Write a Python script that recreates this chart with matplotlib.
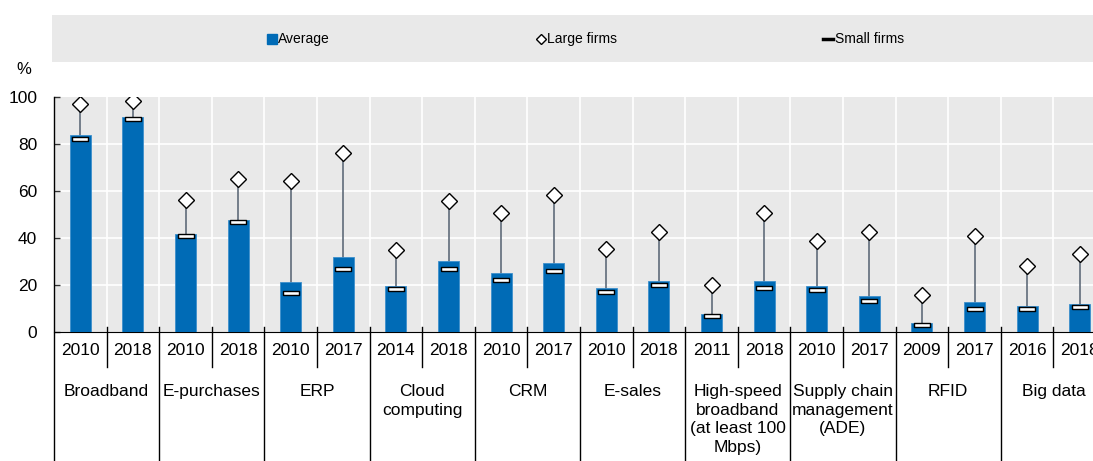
import matplotlib.pyplot as plt
from matplotlib.transforms import blended_transform_factory
from matplotlib import font_manager

groups = ['Broadband', 'E-purchases', 'ERP', 'Cloud\ncomputing', 'CRM', 'E-sales',
          'High-speed\nbroadband\n(at least 100\nMbps)', 'Supply chain\nmanagement\n(ADE)',
          'RFID', 'Big data']
years = ['2010', '2018', '2010', '2018', '2010', '2017', '2014', '2018', '2010', '2017',
         '2010', '2018', '2011', '2018', '2010', '2017', '2009', '2017', '2016', '2018']
average = [83.8, 91.7, 41.7, 47.8, 21.2, 32.1, 19.4, 30.1, 25.2, 29.4,
           18.6, 21.9, 7.8, 21.8, 19.7, 15.3, 3.8, 12.6, 10.9, 12.0]
large = [97.0, 98.5, 56.2, 65.0, 64.3, 76.0, 35.0, 55.8, 50.8, 58.3,
         35.3, 42.4, 20.1, 50.6, 38.9, 42.4, 15.7, 41.0, 28.1, 33.0]
small = [82.2, 90.8, 40.8, 46.8, 16.5, 26.7, 18.4, 27.0, 22.3, 26.1,
         17.1, 20.1, 6.8, 18.8, 18.0, 13.0, 2.8, 9.9, 9.6, 10.5]

names = {f.name for f in font_manager.fontManager.ttflist}
fam = 'Liberation Sans Narrow' if 'Liberation Sans Narrow' in names else 'Liberation Sans'
plt.rcParams['font.family'] = [fam, 'DejaVu Sans']

blue = '#006bb6'
grey_bg = '#e9e9e9'
stem = '#5f6b7a'

W, H = 1093, 461
fig = plt.figure(figsize=(W / 100, H / 100), dpi=100)

# plot area (runs a bit past the right edge, like the original)
x0, x1, ytop, ybot = 54, 1106, 97, 332
ax = fig.add_axes([x0 / W, (H - ybot) / H, (x1 - x0) / W, (ybot - ytop) / H])
ax.set_facecolor(grey_bg)
n = len(years)
xs = list(range(n))
ax.set_xlim(-0.5, n - 0.5)
ax.set_ylim(0, 100)

for v in [20, 40, 60, 80]:
    ax.axhline(v, color='white', lw=1.2, zorder=1)
for i in range(1, n):
    ax.axvline(i - 0.5, color='white', lw=1.2, zorder=1)

ax.vlines(xs, small, large, color=stem, lw=1.2, zorder=2)
ax.bar(xs, average, width=0.4, color=blue, edgecolor='#3d8fcc', lw=0.6, zorder=3)
rect = [(-1, -0.28), (1, -0.28), (1, 0.28), (-1, 0.28), (-1, -0.28)]
ax.plot(xs, small, ls='none', marker=rect, ms=12, mfc='white', mec='black', mew=1, zorder=4)
ax.plot(xs, large, ls='none', marker='D', ms=8.6, mfc='white', mec='black', mew=1, zorder=5)

for s in ['top', 'right']:
    ax.spines[s].set_visible(False)
ax.spines['bottom'].set_color('black')
ax.spines['left'].set_visible(False)
ax.set_xticks([])
ax.set_yticks([0, 20, 40, 60, 80, 100])
ax.tick_params(axis='y', direction='in', length=4, width=1, color='#333333',
               labelsize=12.5, pad=12)
ax.text(-0.022, 1.115, '%', transform=ax.transAxes, fontsize=12, ha='right', va='center')

tr = blended_transform_factory(ax.transData, ax.transAxes)
bot = -0.56
# left axis line
ax.plot([-0.5, -0.5], [1.0, bot], transform=tr, color='black', lw=1, clip_on=False, zorder=6)
for i in range(n):
    ax.text(i, -0.077, years[i], transform=tr, ha='center', va='center', fontsize=12.5)
    if i % 2 == 1:
        ax.plot([i - 0.5, i - 0.5], [0.021, -0.149], transform=tr, color='black', lw=1,
                clip_on=False)
    elif i > 0:
        ax.plot([i - 0.5, i - 0.5], [0.021, bot], transform=tr, color='black', lw=1,
                clip_on=False)
for g, name in enumerate(groups):
    ax.text(2 * g + 0.5, -0.22, name, transform=tr, ha='center', va='top',
            fontsize=12.5, linespacing=1.32)

# legend strip
lg = fig.add_axes([52 / W, (H - 62) / H, (W - 52) / W, 47 / H])
lg.set_xlim(0, W - 52)
lg.set_ylim(0, 1)
lg.axis('off')
lg.add_patch(plt.Rectangle((0, 0), W, 1, color=grey_bg, zorder=0))
lg.plot([272 - 52], [0.5], marker='s', ms=7, color=blue, ls='none')
lg.text(278 - 52, 0.5, 'Average', va='center', fontsize=10)
lg.plot([541 - 52], [0.5], marker='D', ms=5.5, mfc='white', mec='black', mew=1, ls='none')
lg.text(547 - 52, 0.5, 'Large firms', va='center', fontsize=10)
lg.plot([823 - 52, 833 - 52], [0.5, 0.5], color='black', lw=2.5)
lg.text(835 - 52, 0.5, 'Small firms', va='center', fontsize=10)

fig.savefig('out.png', dpi=100)
